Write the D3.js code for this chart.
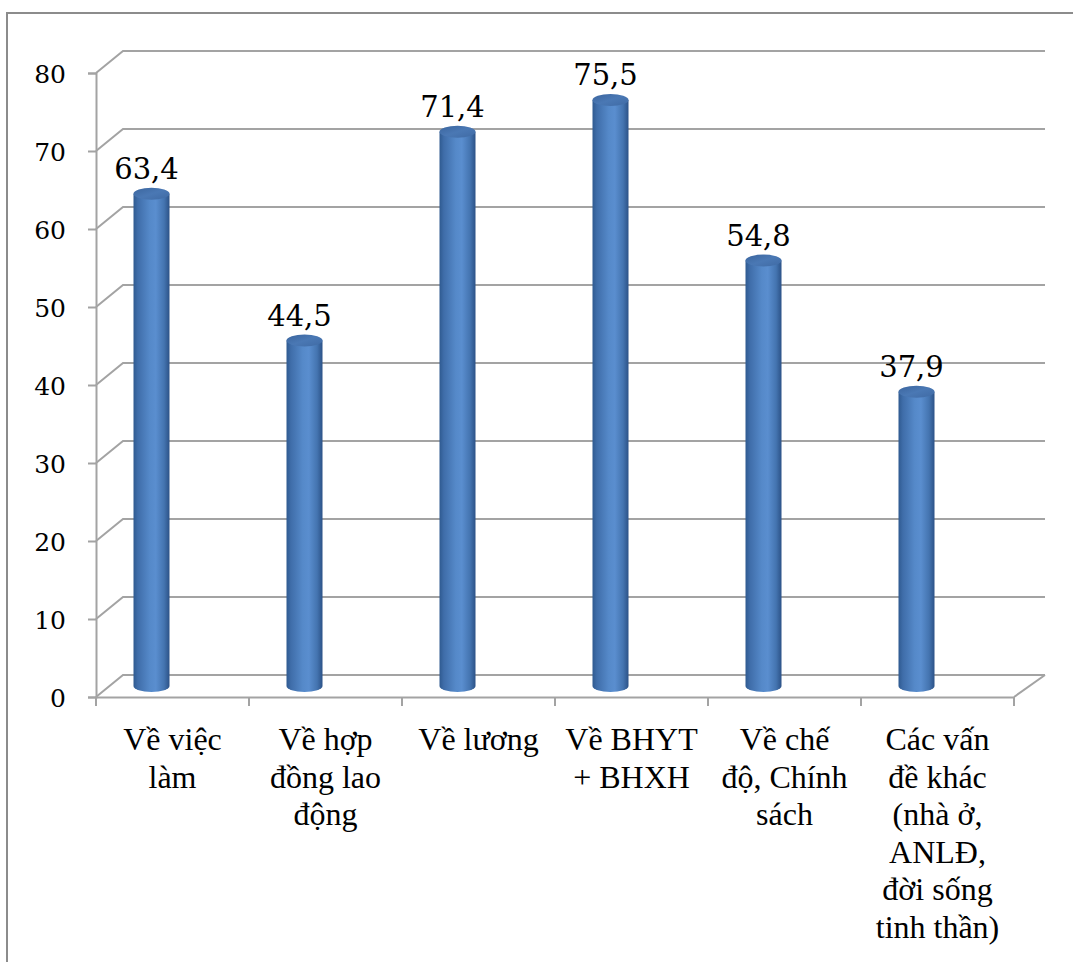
<!DOCTYPE html>
<html>
<head>
<meta charset="utf-8">
<script src="https://cdn.jsdelivr.net/npm/d3@7"></script>
<style>
  html, body { margin: 0; padding: 0; background: #fff; }
  svg { display: block; }
  .serifA { font-family: "Liberation Serif", "Tinos", "Times New Roman", Times, "Noto Serif", "DejaVu Serif", FreeSerif, serif; }
  .serifB { font-family: "DejaVu Serif", "Noto Serif", "Liberation Serif", "Times New Roman", serif; }
</style>
</head>
<body>
<svg id="chart" width="1073" height="962"></svg>
<script>
// Categories (multi-line labels), values and axis ticks
const categories = [
  ["Về việc", "làm"],
  ["Về hợp", "đồng lao", "động"],
  ["Về lương"],
  ["Về BHYT", "+ BHXH"],
  ["Về chế", "độ, Chính", "sách"],
  ["Các vấn", "đề khác", "(nhà ở,", "ANLĐ,", "đời sống", "tinh thần)"]
];
const values = [63.4, 44.5, 71.4, 75.5, 54.8, 37.9];
const yTicks = [0, 10, 20, 30, 40, 50, 60, 70, 80];

const svg = d3.select("#chart");
const W = 1073, H = 962;

// 3D box geometry: front plane and depth offset of the back wall
const depth = { dx: 27, dy: -22 };
const front = { left: 96, right: 1014, bottom: 697, top: 73 };

const keys = categories.map((c, i) => i);
const x = d3.scaleBand().domain(keys).range([front.left, front.right]).padding(0);
const yFront = d3.scaleLinear().domain([0, 80]).range([front.bottom, front.top]);
// bars stand at mid depth
const yBar = d3.scaleLinear().domain([0, 80]).range([686, 65]);
const barShift = -21;
const barW = 36, ry = 6;

const gridColor = "#a3a3a3";
const fmt = v => d3.format(".1f")(v).replace(".", ",");

// Outer frame
svg.append("path")
  .attr("d", `M7,${H} L7,13 L${W},13`)
  .attr("fill", "none").attr("stroke", "#8c8c8c").attr("stroke-width", 2);

// Back-wall gridlines with their diagonal connectors to the value axis
const grid = svg.append("g");
yTicks.forEach(t => {
  const yf = yFront(t), yb = yf + depth.dy;
  grid.append("path")
    .attr("d", `M${front.left},${yf} L${front.left + depth.dx},${yb} L${front.right + depth.dx + 4},${yb}`)
    .attr("fill", "none").attr("stroke", gridColor).attr("stroke-width", 2);
});
// Floor right edge
grid.append("line")
  .attr("x1", front.right).attr("y1", front.bottom)
  .attr("x2", front.right + depth.dx + 4).attr("y2", front.bottom + depth.dy)
  .attr("stroke", gridColor).attr("stroke-width", 2);

// Value axis
const yAxis = d3.axisLeft(yFront).tickValues(yTicks).tickSize(8).tickPadding(22).tickFormat(d3.format("d"));
const yg = svg.append("g").attr("transform", `translate(${front.left},0)`).call(yAxis);
yg.attr("font-family", null).attr("font-size", null);
yg.select(".domain").attr("stroke", gridColor).attr("stroke-width", 2);
yg.selectAll(".tick line").attr("stroke", gridColor).attr("stroke-width", 2);
yg.selectAll(".tick text")
  .attr("class", "serifB")
  .style("font-size", "25px").attr("fill", "#000")
  .attr("dy", "0.36em");

// Category axis
const xAxis = d3.axisBottom(x).tickSize(0).tickFormat("");
const xg = svg.append("g").attr("transform", `translate(0,${front.bottom})`).call(xAxis);
xg.select(".domain").attr("stroke", gridColor).attr("stroke-width", 2);
xg.selectAll(".tick").remove();
const edges = keys.map(k => x(k)).concat([front.right]);
xg.selectAll("line.sep").data(edges).enter().append("line")
  .attr("class", "sep")
  .attr("x1", d => d).attr("x2", d => d).attr("y1", 0).attr("y2", 9)
  .attr("stroke", gridColor).attr("stroke-width", 2);

// Category labels
const labG = svg.append("g")
  .attr("class", "serifA")
  .style("font-size", "32px").attr("fill", "#000").attr("text-anchor", "middle");
categories.forEach((lines, i) => {
  const t = labG.append("text")
    .attr("x", x(i) + x.bandwidth() / 2)
    .attr("y", 750);
  lines.forEach((ln, j) => {
    t.append("tspan").attr("x", x(i) + x.bandwidth() / 2).attr("dy", j === 0 ? 0 : 37.5).text(ln);
  });
});

// Cylinder gradients
const defs = svg.append("defs");
const bodyGrad = defs.append("linearGradient").attr("id", "cylBody").attr("x1", 0).attr("x2", 1).attr("y1", 0).attr("y2", 0);
[[0, "#2f5a90"], [0.12, "#3f6da9"], [0.45, "#5589c9"], [0.62, "#5a8ecf"], [0.85, "#4474b0"], [1, "#2c5287"]]
  .forEach(([o, c]) => bodyGrad.append("stop").attr("offset", o).attr("stop-color", c));
const capGrad = defs.append("linearGradient").attr("id", "cylTop").attr("x1", 0).attr("x2", 1).attr("y1", 0).attr("y2", 1);
[[0, "#3b659e"], [0.5, "#4a78b4"], [1, "#3f6aa4"]]
  .forEach(([o, c]) => capGrad.append("stop").attr("offset", o).attr("stop-color", c));

const bars = svg.append("g").selectAll("g.bar").data(values).enter().append("g").attr("class", "bar");
const cx = (d, i) => x(i) + x.bandwidth() / 2 + barShift;

bars.append("path")
  .attr("fill", "url(#cylBody)")
  .attr("d", (d, i) => {
    const c = cx(d, i), l = c - barW / 2, r = c + barW / 2;
    const yt = yBar(d), yb = yBar(0);
    return `M${l},${yt} L${l},${yb} A${barW / 2},${ry} 0 0 0 ${r},${yb} L${r},${yt} Z`;
  });
bars.append("ellipse")
  .attr("cx", cx).attr("cy", d => yBar(d))
  .attr("rx", barW / 2).attr("ry", ry)
  .attr("fill", "url(#cylTop)");

// Value labels
bars.append("text")
  .attr("class", "serifB")
  .attr("x", (d, i) => cx(d, i) - 5)
  .attr("y", d => yBar(d) - 15)
  .attr("text-anchor", "middle")
  .style("font-size", "29px").attr("fill", "#000")
  .text(d => fmt(d));
</script>
</body>
</html>
